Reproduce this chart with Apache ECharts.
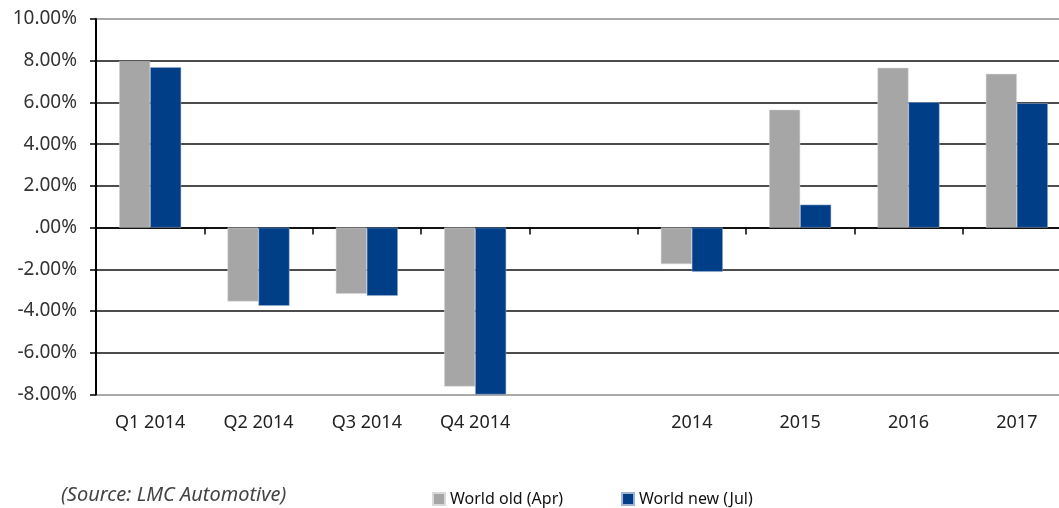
<!DOCTYPE html>
<html>
<head>
<meta charset="utf-8">
<script src="https://cdn.jsdelivr.net/npm/echarts@6/dist/echarts.min.js"></script>
<style>
  html, body { margin: 0; padding: 0; background: #fff; }
  #chart { width: 1059px; height: 508px; }
</style>
</head>
<body>
<div id="chart"></div>
<script>
// categories (blank slot between quarters and years)
const categories = ['Q1 2014', 'Q2 2014', 'Q3 2014', 'Q4 2014', '', '2014', '2015', '2016', '2017'];
// growth in %
const worldOld = [7.98, -3.54, -3.17, -7.62, '-', -1.75, 5.65, 7.66, 7.37];
const worldNew = [7.69, -3.75, -3.27, -8.0, '-', -2.12, 1.10, 6.01, 5.96];
const seriesNames = ['World old (Apr)', 'World new (Jul)'];
const sourceNote = '(Source: LMC Automotive)';

const font = '"Noto Sans", sans-serif';
const myChart = echarts.init(document.getElementById('chart'));

// grid line colours from bottom (-8%) to top (10%)
const gridColors = ['#8c8c8c', '#111', '#111', '#111', '#111', '#111', '#111', '#111', '#111', '#8c8c8c'];

myChart.setOption({
  animation: false,
  textStyle: { fontFamily: font },
  grid: { left: 96, top: 19, width: 975, height: 375.5, outerBoundsMode: 'none' },
  legend: {
    left: 427,
    top: 486,
    itemWidth: 12,
    itemHeight: 12,
    itemGap: 58,
    icon: 'rect',
    textStyle: { fontSize: 16, color: '#111', fontFamily: font },
    data: seriesNames
  },
  graphic: [{
    type: 'text',
    left: 61,
    top: 485,
    style: { text: sourceNote, font: 'italic 20px ' + font, fill: '#444' }
  }],
  xAxis: [
    {
      type: 'category',
      data: categories,
      position: 'bottom',
      axisLine: { onZero: true, lineStyle: { color: '#000', width: 1.5 } },
      axisTick: { show: true, length: 7, lineStyle: { color: '#000', width: 1.5 } },
      axisLabel: { show: false }
    },
    {
      type: 'category',
      data: categories,
      position: 'bottom',
      axisLine: { show: false, onZero: false },
      axisTick: { show: false },
      axisLabel: { margin: 19, fontSize: 18, color: '#222', fontFamily: font }
    }
  ],
  yAxis: {
    type: 'value',
    min: -8,
    max: 10,
    interval: 2,
    axisLine: { show: true, lineStyle: { color: '#000', width: 2 } },
    axisTick: { show: true, length: 6, lineStyle: { color: '#000', width: 1.5 } },
    axisLabel: {
      margin: 19,
      fontSize: 19,
      color: '#333',
      fontFamily: font,
      formatter: v => (v === 0 ? '.00%' : v.toFixed(2) + '%')
    },
    splitLine: { lineStyle: { color: gridColors, width: 1.5 } }
  },
  series: [
    {
      name: seriesNames[0],
      type: 'bar',
      xAxisIndex: 0,
      data: worldOld,
      barWidth: 31,
      barGap: '0%',
      itemStyle: { color: '#a6a6a6', borderColor: '#d9d9d9', borderWidth: 0.5 }
    },
    {
      name: seriesNames[1],
      type: 'bar',
      xAxisIndex: 0,
      data: worldNew,
      barWidth: 31,
      barGap: '0%',
      itemStyle: { color: '#003f87', borderColor: '#9fb3d1', borderWidth: 0.5 }
    }
  ]
});
</script>
</body>
</html>
